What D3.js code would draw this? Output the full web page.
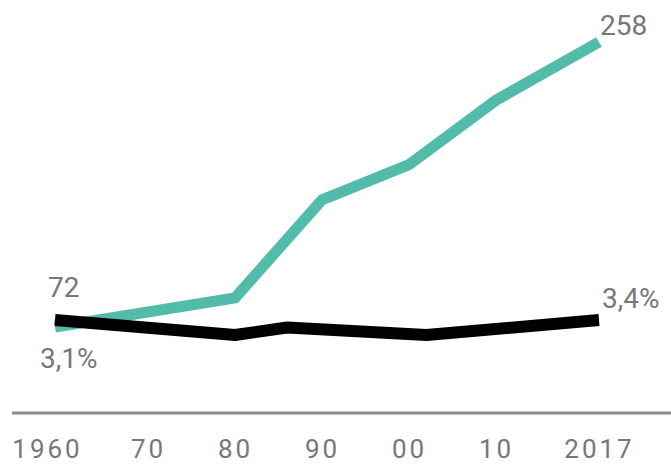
<!DOCTYPE html>
<html>
<head>
<meta charset="utf-8">
<script src="https://cdn.jsdelivr.net/npm/d3@7/dist/d3.min.js"></script>
<style>
  html, body { margin: 0; padding: 0; background: #fff; }
  svg { display: block; }
  text { font-family: Roboto, "Noto Sans", sans-serif; fill: #777; }
</style>
</head>
<body>
<svg id="chart" width="671" height="465"></svg>
<script>
// ---- data ----
const tickYears = [1960, 1970, 1980, 1990, 2000, 2010, 2017];
const tickLabels = ["1960", "70", "80", "90", "00", "10", "2017"];

const greenYears = [1960, 1980, 1990, 2000, 2010, 2017];
const greenValues = [72, 91, 155, 178, 220, 258];

const blackYears = [1960, 1980, 1986, 2002, 2017];
const blackValues = [3.1, 2.9, 3.0, 2.9, 3.1];

const greenStartLabel = "72";
const greenEndLabel = "258";
const blackStartLabel = "3,1%";
const blackEndLabel = "3,4%";

// ---- scales ----
const svg = d3.select("#chart");
const x = d3.scaleLinear().domain([1960, 1970, 2010, 2017]).range([55, 148, 496, 599]);
const yGreen = d3.scaleLinear().domain([72, 258]).range([327, 42]);
const yBlack = d3.scaleLinear().domain([2.9, 3.1]).range([335, 320]);

// ---- axis baseline ----
const axisY = 413;
svg.append("line")
  .attr("x1", 12).attr("x2", 671)
  .attr("y1", axisY).attr("y2", axisY)
  .attr("stroke", "#8a8a8a").attr("stroke-width", 3);

// tick labels via d3 axis
const axis = d3.axisBottom(x)
  .tickValues(tickYears)
  .tickFormat((d, i) => tickLabels[i])
  .tickSize(0).tickPadding(0);
const gAxis = svg.append("g").attr("transform", `translate(0, 458)`).call(axis);
gAxis.select(".domain").remove();
gAxis.selectAll("text")
  .attr("y", 0).attr("dy", 0)
  .style("font-size", "26px")
  .style("letter-spacing", "3px")
  .attr("fill", "#777")
  .attr("dx", (d, i) => i === 0 ? -8 : 0);

// ---- lines ----
const greenData = greenYears.map((yr, i) => [yr, greenValues[i]]);
const blackData = blackYears.map((yr, i) => [yr, blackValues[i]]);

svg.append("path")
  .datum(greenData)
  .attr("fill", "none")
  .attr("stroke", "#52bbaa")
  .attr("stroke-width", 11)
  .attr("stroke-linejoin", "miter")
  .attr("d", d3.line().x(d => x(d[0])).y(d => yGreen(d[1])));

svg.append("path")
  .datum(blackData)
  .attr("fill", "none")
  .attr("stroke", "#000")
  .attr("stroke-width", 12)
  .attr("stroke-linejoin", "round")
  .attr("d", d3.line().x(d => x(d[0])).y(d => yBlack(d[1])));

// ---- value labels ----
const g0 = greenData[0], gN = greenData[greenData.length - 1];
const b0 = blackData[0], bN = blackData[blackData.length - 1];
const labelSize = "28px";

svg.append("text").text(greenStartLabel)
  .attr("x", x(g0[0]) - 7).attr("y", yGreen(g0[1]) - 30)
  .style("font-size", labelSize);
svg.append("text").text(blackStartLabel)
  .attr("x", x(b0[0]) - 15).attr("y", yBlack(b0[1]) + 48)
  .style("font-size", labelSize);
svg.append("text").text(greenEndLabel)
  .attr("x", x(gN[0]) + 1).attr("y", yGreen(gN[1]) - 7)
  .style("font-size", labelSize);
svg.append("text").text(blackEndLabel)
  .attr("x", x(bN[0]) + 3).attr("y", yBlack(bN[1]) - 12)
  .style("font-size", labelSize);
</script>
</body>
</html>
